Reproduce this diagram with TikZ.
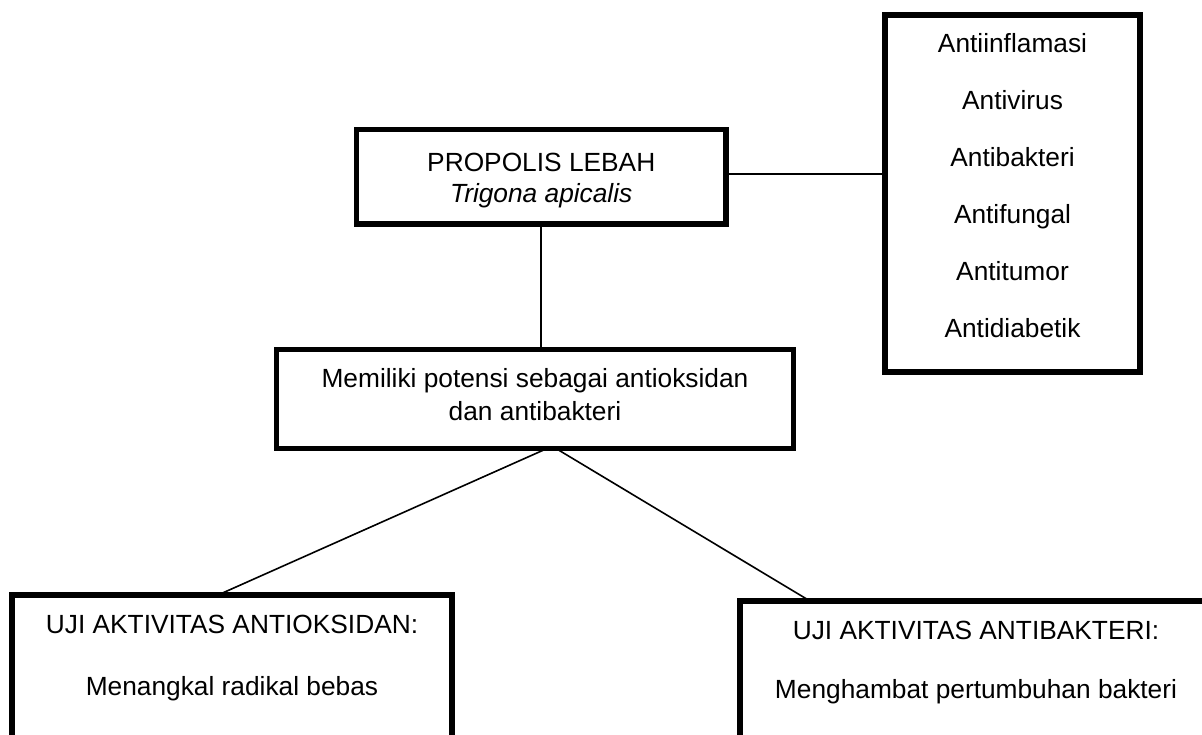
\documentclass[tikz,border=0pt]{standalone}
\usepackage{fontspec}
\setmainfont{Liberation Sans}
\begin{document}
\tikzset{
  box/.style={draw=black, line width=5.5pt, inner sep=0pt, outer sep=0pt},
  conn/.style={draw=black, line width=1.6pt},
  txt/.style={anchor=base, inner sep=0pt, outer sep=0pt, font=\fontsize{26.3}{31}\selectfont},
}
\begin{tikzpicture}[x=1pt,y=-1pt]
\useasboundingbox (0,0) rectangle (1202,734);
\fill[white] (0,0) rectangle (1202,734);
\clip (0,0) rectangle (1202,734);
% boxes
\node[box, minimum width=369.5pt, minimum height=94.5pt] (top) at (541.25,176.75) {};
\node[box, minimum width=255pt, minimum height=357pt] (right) at (1012.5,193.5) {};
\node[box, minimum width=517pt, minimum height=99pt] (mid) at (535,399) {};
\node[box, minimum width=440pt, minimum height=165pt] (lbox) at (232,677.5) {};
\node[box, minimum width=472pt, minimum height=159pt] (rbox) at (976,680.5) {};
% texts
\node[txt] (t1) at (541.25,171) {PROPOLIS LEBAH};
\node[txt] (t2) at (541.25,202) {\itshape Trigona apicalis};
\node[txt] (r1) at (1012.5,52) {Antiinflamasi};
\node[txt] (r2) at (1012.5,109) {Antivirus};
\node[txt] (r3) at (1012.5,166) {Antibakteri};
\node[txt] (r4) at (1012.5,223) {Antifungal};
\node[txt] (r5) at (1012.5,280) {Antitumor};
\node[txt] (r6) at (1012.5,337) {Antidiabetik};
\node[txt] (m1) at (535,387) {Memiliki potensi sebagai antioksidan};
\node[txt] (m2) at (535,420) {dan antibakteri};
\node[txt] (l1) at (232,633) {UJI AKTIVITAS ANTIOKSIDAN:};
\node[txt] (l2) at (232,695) {Menangkal radikal bebas};
\node[txt] (b1) at (976,639) {UJI AKTIVITAS ANTIBAKTERI:};
\node[txt] (b2) at (976,698) {Menghambat pertumbuhan bakteri};
% connectors
\coordinate (h) at ([yshift=3pt]top.east);
\draw[conn] (h) -- (h -| right.west);
\draw[conn] (top.south) -- (top.south |- mid.north);
\draw[conn] ([xshift=12pt]mid.south) -- ([xshift=-14pt]lbox.north);
\draw[conn] ([xshift=21pt]mid.south) -- ([xshift=-166pt]rbox.north);
\end{tikzpicture}
\end{document}
